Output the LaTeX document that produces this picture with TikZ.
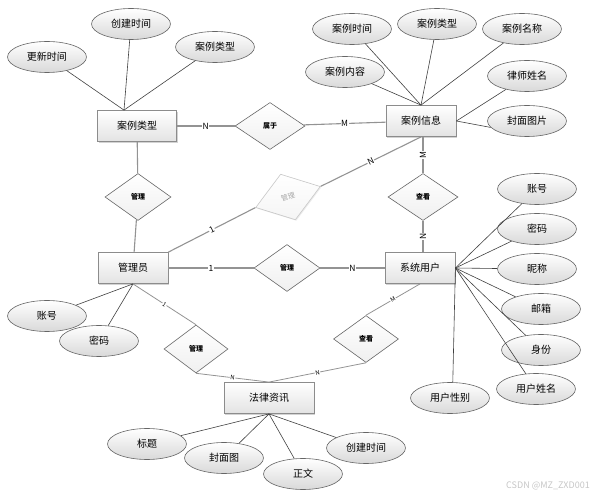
\documentclass[tikz,border=0pt]{standalone}
\usepackage{fontspec}
\setmainfont{Noto Sans CJK SC}
\usepackage{tikz}
\usetikzlibrary{shapes.geometric, shadows, positioning, calc}

\begin{document}
\begin{tikzpicture}[x=1pt, y=-1pt,
    entity/.style={draw=gray!90, line width=0.8pt, top color=white, bottom color=gray!22, minimum width=70pt, minimum height=31pt, font=\fontsize{10}{12}\selectfont, drop shadow={shadow xshift=1.2pt, shadow yshift=-1.2pt, opacity=0.35}},
    attr/.style={ellipse, draw=gray!80!black, line width=0.6pt, top color=white, bottom color=gray!30, minimum width=79pt, minimum height=31pt, inner sep=0pt, font=\fontsize{10}{12}\selectfont},
    rel/.style={diamond, draw=gray!80!black, line width=0.6pt, top color=white, bottom color=gray!12, minimum width=66pt, minimum height=47pt, inner sep=0pt, font=\fontsize{7}{8}\selectfont\bfseries},
    link/.style={draw=gray!85, line width=1.1pt},
    aline/.style={draw=black!75, line width=0.6pt},
    card/.style={fill=white, inner sep=0.6pt, font=\fontsize{8.5}{9}\selectfont, midway},
    tiny/.style={font=\fontsize{6}{7}\selectfont}]
    \useasboundingbox (0,0) rectangle (606,497);
    % entities
    \node[entity, minimum width=79pt] (ct) at (137,126) {案例类型};
    \node[entity] (ci) at (421,121) {案例信息};
    \node[entity] (am) at (133,268) {管理员};
    \node[entity] (su) at (420,268) {系统用户};
    \node[entity, minimum width=90pt] (li) at (269,398) {法律资讯};
    % relations
    \node[rel, minimum width=70pt] (shu) at (270,126) {属于};
    \node[rel] (gl1) at (138,197) {管理};
    \node[rel, minimum width=68pt, minimum height=48pt, rotate=18, draw=gray!45, bottom color=gray!8, text=gray!70, font=\fontsize{7}{8}\selectfont, drop shadow={shadow xshift=1pt, shadow yshift=-1pt, opacity=0.15}] (gl0) at (288,197) {管理};
    \node[rel, minimum width=70pt] (ck1) at (423,197) {查看};
    \node[rel] (gl2) at (287,268) {管理};
    \node[rel, minimum width=64pt, minimum height=48pt] (gl3) at (196,349) {管理};
    \node[rel, minimum width=65pt] (ck2) at (366,339) {查看};
    % attributes
    \node[attr] (ct1) at (47,57) {更新时间};
    \node[attr] (ct2) at (131,24) {创建时间};
    \node[attr] (ct3) at (215,47) {案例类型};
    \node[attr] (ci1) at (352,29) {案例时间};
    \node[attr] (ci2) at (437,24) {案例类型};
    \node[attr] (ci3) at (522,29) {案例名称};
    \node[attr] (ci4) at (345,72) {案例内容};
    \node[attr] (ci5) at (527,76) {律师姓名};
    \node[attr] (ci6) at (527,121) {封面图片};
    \node[attr] (su1) at (537,189) {账号};
    \node[attr] (su2) at (537,229) {密码};
    \node[attr] (su3) at (537,269) {昵称};
    \node[attr] (su4) at (541,309) {邮箱};
    \node[attr] (su5) at (541,350) {身份};
    \node[attr] (su6) at (536,389) {用户姓名};
    \node[attr] (su7) at (450,398) {用户性别};
    \node[attr] (am1) at (47,316) {账号};
    \node[attr] (am2) at (99,341) {密码};
    \node[attr] (li1) at (147,444) {标题};
    \node[attr] (li2) at (224,458) {封面图};
    \node[attr] (li3) at (303,474) {正文};
    \node[attr] (li4) at (366,448) {创建时间};
    % attribute lines
    \coordinate (ctTop) at ([xshift=-13pt]ct.north);
    \foreach \a in {ct1,ct2,ct3} \draw[aline] (ctTop) -- (\a);
    \foreach \a in {ci1,ci2,ci3,ci4} \draw[aline] (ci.north) -- (\a);
    \draw[aline] (ci.east) -- (ci5);
    \draw[aline] (ci.east) -- (ci6.190);
    \foreach \a in {su1,su2,su3,su4,su5,su6} \draw[aline] (su.east) -- (\a);
    \draw[aline] (su.east) -- (su7.80);
    \foreach \a in {am1,am2} \draw[aline] (am.south) -- (\a);
    \foreach \a in {li1,li2,li3,li4} \draw[aline] (li.south) -- (\a);
    % relation lines
    \draw[link] (ct) -- node[card]{N} (shu);
    \draw[link] (shu) -- node[card]{M} (ci);
    \draw[link] (ct) -- (gl1);
    \draw[link] (gl1) -- (am);
    \draw[link] (am.north east) -- node[card, sloped]{1} (gl0.west);
    \draw[link] (gl0.east) -- node[card, sloped]{N} (ci.south);
    \draw[link] (ck1.north |- ci.south) -- node[card, rotate=90]{M} (ck1.north);
    \draw[link] (ck1.south) -- node[card, rotate=90]{N} (ck1.south |- su.north);
    \draw[link] (am) -- node[card]{1} (gl2);
    \draw[link] (gl2) -- node[card]{N} (su);
    \draw[link, line width=0.8pt] (am.south) -- node[card, sloped, tiny]{1} (gl3.north);
    \draw[link, line width=0.8pt] (gl3.south) -- node[card, sloped, tiny]{N} (li.north);
    \draw[link, line width=0.8pt] (su.south) -- node[card, sloped, tiny]{M} (ck2.north);
    \draw[link, line width=0.8pt] (ck2.south) -- node[card, sloped, tiny]{N} (li.north);
    \node[text=gray!45, font=\fontsize{9}{10}\selectfont] (wm) at (548,486) {CSDN @MZ\_ZXD001};
\end{tikzpicture}
\end{document}
